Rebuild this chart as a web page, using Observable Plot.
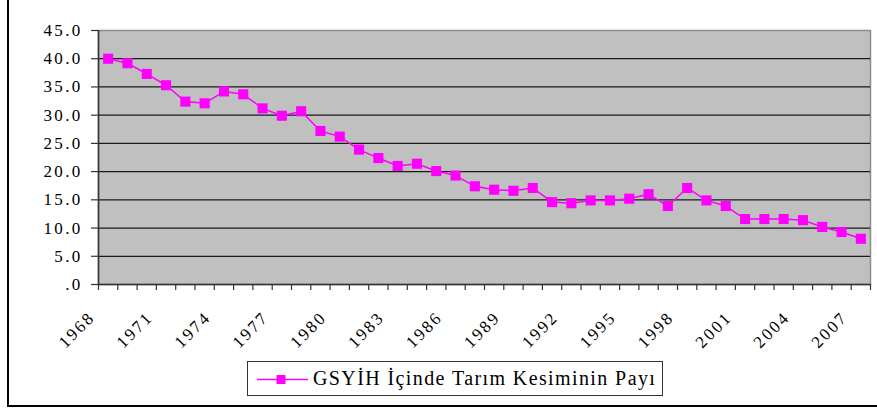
<!DOCTYPE html>
<html>
<head>
<meta charset="utf-8">
<script src="https://cdn.jsdelivr.net/npm/d3@7"></script>
<script src="https://cdn.jsdelivr.net/npm/@observablehq/plot@0.6"></script>
<style>
  html, body { margin: 0; padding: 0; background: #fff; }
  #wrap { position: relative; width: 877px; height: 410px; overflow: hidden; }
  #chart svg, #chart svg text { font-family: "Liberation Serif", "Times New Roman", serif !important; }
  #chart svg text { letter-spacing: 2.3px; }
  .bl { position: absolute; left: 7px; top: 0; width: 2px; height: 407px; background: #000; }
  .bb { position: absolute; left: 7px; top: 405px; width: 870px; height: 2px; background: #000; }
  #legend { position: absolute; left: 247px; top: 361px; width: 414px; height: 33px; border: 1px solid #333; background: #fff; }
  #legend svg { position: absolute; left: 0; top: 0; }
  #legend span { position: absolute; left: 65px; top: 5px; font-family: "Liberation Serif", "Times New Roman", serif; font-size: 20px; line-height: 22px; letter-spacing: 1.4px; color: #000; white-space: nowrap; }
</style>
</head>
<body>
<div id="wrap">
  <div id="chart"></div>
  <div id="legend"></div>
  <div class="bl"></div>
  <div class="bb"></div>
</div>
<script>
const years = [1968, 1969, 1970, 1971, 1972, 1973, 1974, 1975, 1976, 1977,
               1978, 1979, 1980, 1981, 1982, 1983, 1984, 1985, 1986, 1987,
               1988, 1989, 1990, 1991, 1992, 1993, 1994, 1995, 1996, 1997,
               1998, 1999, 2000, 2001, 2002, 2003, 2004, 2005, 2006, 2007];
const share = [40.0, 39.2, 37.3, 35.3, 32.4, 32.1, 34.2, 33.7, 31.2, 29.9,
               30.7, 27.2, 26.2, 23.9, 22.4, 21.0, 21.4, 20.1, 19.3, 17.4,
               16.8, 16.6, 17.1, 14.6, 14.4, 14.9, 14.9, 15.2, 16.0, 13.9,
               17.1, 14.9, 13.9, 11.6, 11.6, 11.6, 11.4, 10.2, 9.3, 8.1];
const xTickLabels = [1968, 1971, 1974, 1977, 1980, 1983, 1986, 1989, 1992, 1995, 1998, 2001, 2004, 2007];
const yTicks = [0, 5, 10, 15, 20, 25, 30, 35, 40, 45];
const yTickLabels = [".0", "5.0", "10.0", "15.0", "20.0", "25.0", "30.0", "35.0", "40.0", "45.0"];
const seriesName = "GSYİH İçinde Tarım Kesiminin Payı";

const data = years.map((y, i) => ({year: y, value: share[i]}));
// category boundaries (ticks lie between categories)
const boundaries = years.map(y => y - 0.5).concat([years[years.length - 1] + 0.5]);
const gridVals = yTicks.filter(v => v > 0 && v < 45);
const magenta = "#FF00FF";
const fontStack = "'Liberation Serif', 'Times New Roman', serif";

const chart = Plot.plot({
  width: 877,
  height: 355,
  marginTop: 30,
  marginBottom: 71,
  marginLeft: 98,
  marginRight: 7,
  style: {fontFamily: fontStack, fontSize: "17px", color: "#000", background: "transparent"},
  x: {type: "linear", domain: [boundaries[0], boundaries[boundaries.length - 1]], label: null},
  y: {domain: [0, 45], label: null},
  marks: [
    Plot.frame({fill: "#C0C0C0", stroke: "#8c8c8c", strokeWidth: 1.5}),
    Plot.ruleY(gridVals, {stroke: "#1a1a1a", strokeWidth: 1.3}),
    Plot.ruleY([0], {stroke: "#333", strokeWidth: 1.5}),
    Plot.ruleX([boundaries[0]], {stroke: "#333", strokeWidth: 1.5}),
    Plot.axisX({ticks: boundaries, tickSize: 6, tickFormat: () => "", label: null, stroke: "#333", strokeWidth: 1.2}),
    Plot.axisY({ticks: yTicks, tickSize: 7, tickPadding: 9, label: null, stroke: "#333", strokeWidth: 1.2,
                tickFormat: d => yTickLabels[yTicks.indexOf(d)], fontSize: 17}),
    Plot.text(xTickLabels, {x: d => d, text: d => String(d), frameAnchor: "bottom", dx: -16, dy: 30, rotate: -45,
                            textAnchor: "end", lineAnchor: "middle", fontSize: 17, fill: "#000"}),
    Plot.line(data, {x: "year", y: "value", stroke: magenta, strokeWidth: 1.5}),
    Plot.dot(data, {x: "year", y: "value", symbol: "square", r: 5.7, fill: magenta, stroke: "none"})
  ]
});
document.getElementById("chart").appendChild(chart);

// legend below the chart
const legend = document.getElementById("legend");
const ls = d3.create("svg").attr("width", 62).attr("height", 33);
ls.append("line").attr("x1", 9).attr("x2", 60).attr("y1", 17.5).attr("y2", 17.5)
  .attr("stroke", magenta).attr("stroke-width", 1.5);
ls.append("rect").attr("x", 28.5).attr("y", 13).attr("width", 9).attr("height", 9).attr("fill", magenta);
legend.appendChild(ls.node());
const sp = document.createElement("span");
sp.textContent = seriesName;
legend.appendChild(sp);
</script>
</body>
</html>
